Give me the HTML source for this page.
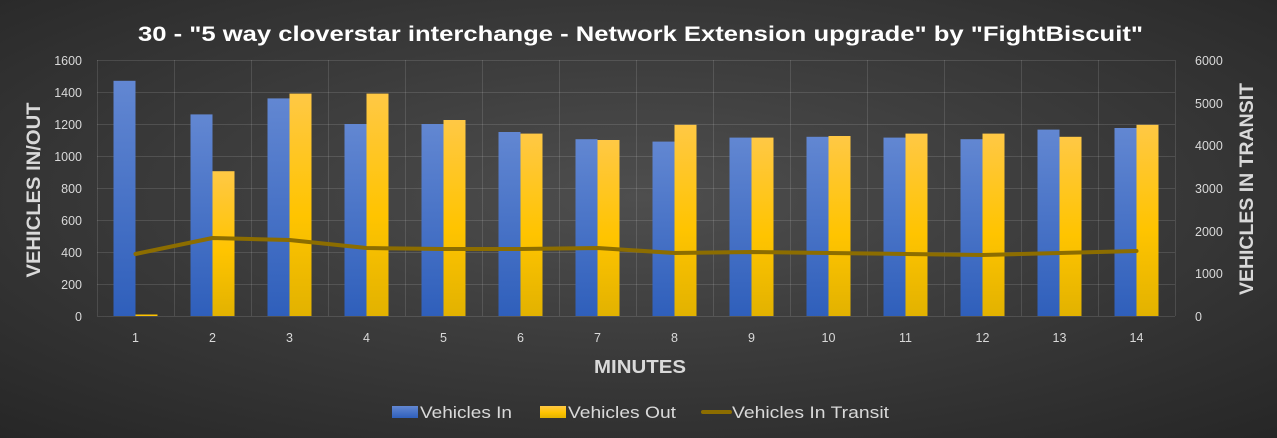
<!DOCTYPE html>
<html><head><meta charset="utf-8"><style>
html,body{margin:0;padding:0;width:1277px;height:438px;overflow:hidden;background:#2e2e2e}
svg{display:block;font-family:"Liberation Sans",sans-serif}
</style></head><body>
<svg width="1277" height="438" viewBox="0 0 1277 438" xmlns="http://www.w3.org/2000/svg">
<defs>
<radialGradient id="bg" cx="0.5" cy="0.45" r="0.75">
<stop offset="0" stop-color="#4e4e4e"/><stop offset="1" stop-color="#262626"/>
</radialGradient>
<linearGradient id="gb" x1="0" y1="0" x2="0" y2="1"><stop offset="0" stop-color="#6287d2"/><stop offset="1" stop-color="#2f5fbb"/></linearGradient>
<linearGradient id="gy" x1="0" y1="0" x2="0" y2="1"><stop offset="0" stop-color="#ffc845"/><stop offset="0.55" stop-color="#ffc400"/><stop offset="1" stop-color="#e2b200"/></linearGradient>
</defs>
<rect width="1277" height="438" fill="url(#bg)"/>
<text x="640.5" y="41" fill="#ffffff" font-size="21" font-weight="bold" text-anchor="middle" textLength="1005" lengthAdjust="spacingAndGlyphs">30 - "5 way cloverstar interchange - Network Extension upgrade" by "FightBiscuit"</text>
<g stroke="#ffffff" stroke-opacity="0.12" stroke-width="1">
<line x1="97" y1="60.5" x2="1175" y2="60.5"/><line x1="97" y1="92.5" x2="1175" y2="92.5"/><line x1="97" y1="124.5" x2="1175" y2="124.5"/><line x1="97" y1="156.5" x2="1175" y2="156.5"/><line x1="97" y1="188.5" x2="1175" y2="188.5"/><line x1="97" y1="220.5" x2="1175" y2="220.5"/><line x1="97" y1="252.5" x2="1175" y2="252.5"/><line x1="97" y1="284.5" x2="1175" y2="284.5"/><line x1="97" y1="316.5" x2="1175" y2="316.5"/>
<line x1="97.5" y1="60" x2="97.5" y2="316"/><line x1="174.5" y1="60" x2="174.5" y2="316"/><line x1="251.5" y1="60" x2="251.5" y2="316"/><line x1="328.5" y1="60" x2="328.5" y2="316"/><line x1="405.5" y1="60" x2="405.5" y2="316"/><line x1="482.5" y1="60" x2="482.5" y2="316"/><line x1="559.5" y1="60" x2="559.5" y2="316"/><line x1="636.5" y1="60" x2="636.5" y2="316"/><line x1="713.5" y1="60" x2="713.5" y2="316"/><line x1="790.5" y1="60" x2="790.5" y2="316"/><line x1="867.5" y1="60" x2="867.5" y2="316"/><line x1="944.5" y1="60" x2="944.5" y2="316"/><line x1="1021.5" y1="60" x2="1021.5" y2="316"/><line x1="1098.5" y1="60" x2="1098.5" y2="316"/><line x1="1175.5" y1="60" x2="1175.5" y2="316"/>
</g>
<g fill="url(#gb)">
<rect x="113.5" y="80.8" width="22" height="235.2"/><rect x="190.5" y="114.4" width="22" height="201.6"/><rect x="267.5" y="98.4" width="22" height="217.6"/><rect x="344.5" y="124" width="22" height="192"/><rect x="421.5" y="124" width="22" height="192"/><rect x="498.5" y="132" width="22" height="184"/><rect x="575.5" y="139.2" width="22" height="176.8"/><rect x="652.5" y="141.6" width="22" height="174.4"/><rect x="729.5" y="137.6" width="22" height="178.4"/><rect x="806.5" y="136.8" width="22" height="179.2"/><rect x="883.5" y="137.6" width="22" height="178.4"/><rect x="960.5" y="139.2" width="22" height="176.8"/><rect x="1037.5" y="129.6" width="22" height="186.4"/><rect x="1114.5" y="128" width="22" height="188"/>
</g>
<g fill="url(#gy)">
<rect x="135.5" y="314.5" width="22" height="1.5" fill="#ffc400"/><rect x="212.5" y="171.2" width="22" height="144.8"/><rect x="289.5" y="93.6" width="22" height="222.4"/><rect x="366.5" y="93.6" width="22" height="222.4"/><rect x="443.5" y="120" width="22" height="196"/><rect x="520.5" y="133.6" width="22" height="182.4"/><rect x="597.5" y="140" width="22" height="176"/><rect x="674.5" y="124.8" width="22" height="191.2"/><rect x="751.5" y="137.6" width="22" height="178.4"/><rect x="828.5" y="136" width="22" height="180"/><rect x="905.5" y="133.6" width="22" height="182.4"/><rect x="982.5" y="133.6" width="22" height="182.4"/><rect x="1059.5" y="136.8" width="22" height="179.2"/><rect x="1136.5" y="124.8" width="22" height="191.2"/>
</g>
<polyline points="135.5,254 212.5,238 289.5,240 366.5,248 443.5,249 520.5,249 597.5,248 674.5,253 751.5,252 828.5,253 905.5,254 982.5,255 1059.5,253 1136.5,251" fill="none" stroke="#8c6d00" stroke-width="4" stroke-linejoin="round" stroke-linecap="round"/>
<g fill="#d9d9d9" font-size="12.5" text-anchor="end">
<text x="82" y="65">1600</text><text x="82" y="97">1400</text><text x="82" y="129">1200</text><text x="82" y="161">1000</text><text x="82" y="193">800</text><text x="82" y="225">600</text><text x="82" y="257">400</text><text x="82" y="289">200</text><text x="82" y="321">0</text>
</g>
<g fill="#d9d9d9" font-size="12.5">
<text x="1195" y="65">6000</text><text x="1195" y="108">5000</text><text x="1195" y="150">4000</text><text x="1195" y="193">3000</text><text x="1195" y="236">2000</text><text x="1195" y="278">1000</text><text x="1195" y="321">0</text>
</g>
<g fill="#d9d9d9" font-size="12.5" text-anchor="middle">
<text x="135.5" y="342">1</text><text x="212.5" y="342">2</text><text x="289.5" y="342">3</text><text x="366.5" y="342">4</text><text x="443.5" y="342">5</text><text x="520.5" y="342">6</text><text x="597.5" y="342">7</text><text x="674.5" y="342">8</text><text x="751.5" y="342">9</text><text x="828.5" y="342">10</text><text x="905.5" y="342">11</text><text x="982.5" y="342">12</text><text x="1059.5" y="342">13</text><text x="1136.5" y="342">14</text>
</g>
<text x="640" y="373" fill="#d9d9d9" font-size="18" font-weight="bold" text-anchor="middle" textLength="92" lengthAdjust="spacingAndGlyphs">MINUTES</text>
<text transform="translate(40,190) rotate(-90)" fill="#d9d9d9" font-size="19" font-weight="bold" text-anchor="middle" textLength="175" lengthAdjust="spacingAndGlyphs">VEHICLES IN/OUT</text>
<text transform="translate(1253,189) rotate(-90)" fill="#d9d9d9" font-size="19" font-weight="bold" text-anchor="middle" textLength="212" lengthAdjust="spacingAndGlyphs">VEHICLES IN TRANSIT</text>
<rect x="392" y="406" width="26" height="12" fill="url(#gb)"/>
<text x="420" y="418" fill="#d9d9d9" font-size="17" textLength="92" lengthAdjust="spacingAndGlyphs">Vehicles In</text>
<rect x="540" y="406" width="26" height="12" fill="url(#gy)"/>
<text x="568" y="418" fill="#d9d9d9" font-size="17" textLength="108" lengthAdjust="spacingAndGlyphs">Vehicles Out</text>
<line x1="703" y1="412" x2="730" y2="412" stroke="#8c6d00" stroke-width="4" stroke-linecap="round"/>
<text x="732" y="418" fill="#d9d9d9" font-size="17" textLength="157" lengthAdjust="spacingAndGlyphs">Vehicles In Transit</text>
</svg>
</body></html>
